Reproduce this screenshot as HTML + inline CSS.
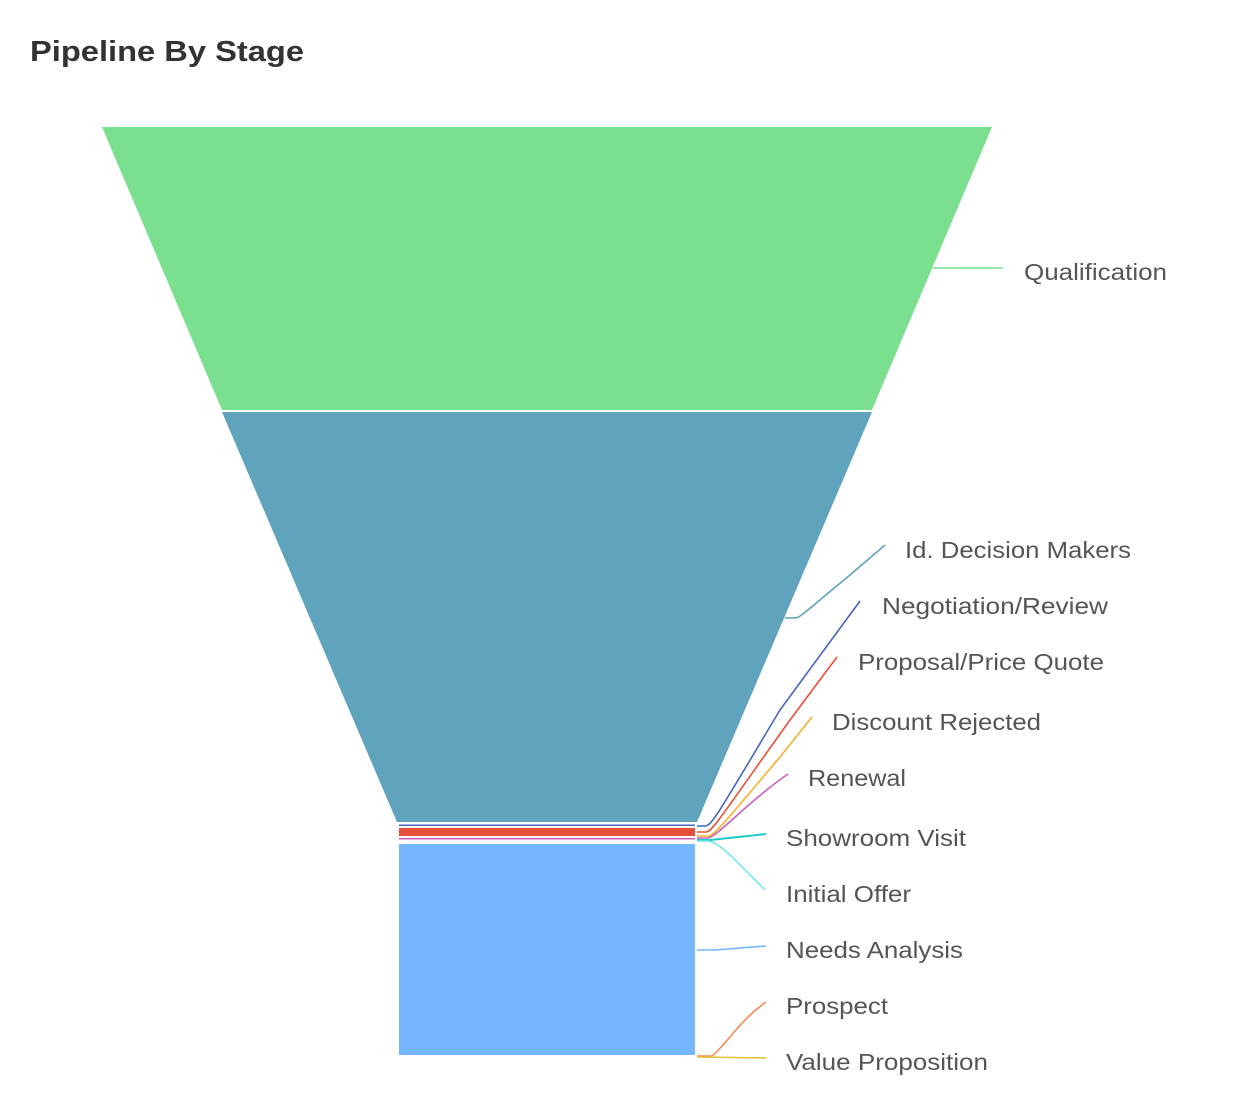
<!DOCTYPE html>
<html><head><style>
body{margin:0;background:#fff;width:1248px;height:1100px;overflow:hidden;font-family:"Liberation Sans",sans-serif}
</style></head><body>
<svg width="1248" height="1100" xmlns="http://www.w3.org/2000/svg" font-family="Liberation Sans, sans-serif">
<text x="30" y="61" font-size="29" font-weight="bold" fill="#333" textLength="274" lengthAdjust="spacingAndGlyphs">Pipeline By Stage</text>
<polygon points="102,127 992,127 872,410 222,410" fill="#7ae08f"/>
<polygon points="222,412 872,412 697,822 397,822" fill="#60a3bd"/>
<rect x="399" y="824.5" width="296" height="1.5" fill="#4a65c0"/>
<rect x="399" y="828" width="296" height="8" fill="#e5503a"/>
<rect x="399" y="838" width="296" height="1.5" fill="#c760be"/>
<rect x="399" y="844" width="296" height="211" fill="#74b7ff"/>
<g fill="none" stroke-width="1.6">
<path d="M933,268 L1003,268" stroke="#7ae08f"/>
<path d="M785,618 L795,618 C800,618 805,612 850,575 L885,545" stroke="#60a3bd"/>
<path d="M697,826 L705,826 C712,826 720,810 780,710 L860,601" stroke="#4a65c0"/>
<path d="M697,832 L706,832 C712,832 720,818 790,720 L837,657" stroke="#e5503a"/>
<path d="M697,836 L708,836 C714,836 725,822 780,757 L812,717" stroke="#f5b12f"/>
<path d="M697,838 L708,838 C718,836 750,800 788,774" stroke="#c760be"/>
<path d="M697,840 L710,840 L766,834" stroke="#1ccbcc" stroke-width="2"/>
<path d="M697,841 L708,841 C720,843 730,855 765,890" stroke="#73e8e8"/>
<path d="M697,950 L715,950 L766,946" stroke="#74b7ff"/>
<path d="M697,1056 L712,1056 C725,1046 740,1020 766,1002" stroke="#f48a55"/>
<path d="M697,1057 L766,1058" stroke="#e5c23a"/>
</g>
<g font-size="23" fill="#555">
<text x="1024" y="280" textLength="143" lengthAdjust="spacingAndGlyphs">Qualification</text>
<text x="905" y="558" textLength="226" lengthAdjust="spacingAndGlyphs">Id. Decision Makers</text>
<text x="882" y="614" textLength="226" lengthAdjust="spacingAndGlyphs">Negotiation/Review</text>
<text x="858" y="670" textLength="246" lengthAdjust="spacingAndGlyphs">Proposal/Price Quote</text>
<text x="832" y="730" textLength="209" lengthAdjust="spacingAndGlyphs">Discount Rejected</text>
<text x="808" y="786" textLength="98" lengthAdjust="spacingAndGlyphs">Renewal</text>
<text x="786" y="846" textLength="180" lengthAdjust="spacingAndGlyphs">Showroom Visit</text>
<text x="786" y="902" textLength="125" lengthAdjust="spacingAndGlyphs">Initial Offer</text>
<text x="786" y="958" textLength="177" lengthAdjust="spacingAndGlyphs">Needs Analysis</text>
<text x="786" y="1014" textLength="102" lengthAdjust="spacingAndGlyphs">Prospect</text>
<text x="786" y="1070" textLength="202" lengthAdjust="spacingAndGlyphs">Value Proposition</text>
</g>
</svg>
</body></html>
